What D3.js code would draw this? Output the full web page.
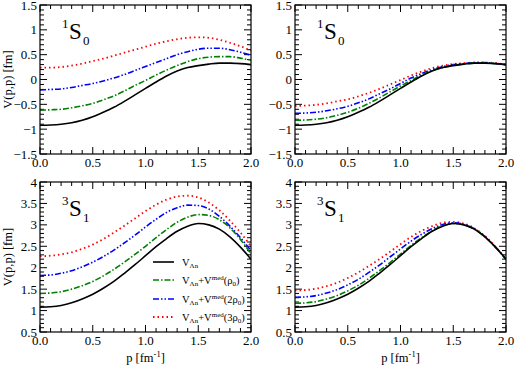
<!DOCTYPE html>
<html>
<head>
<meta charset="utf-8">
<script src="https://cdn.jsdelivr.net/npm/d3@7"></script>
<style>
  body { margin: 0; background: #fff; }
  svg { display: block; font-family: "Liberation Serif", "Times New Roman", serif; }
  .tick-label { font-size: 13px; fill: #000; }
</style>
</head>
<body>
<svg width="515" height="368"></svg>
<script>
const pGrid = [0.0, 0.1, 0.2, 0.3, 0.4, 0.5, 0.6, 0.7, 0.8, 0.9, 1.0, 1.1, 1.2, 1.3, 1.4, 1.5, 1.6, 1.7, 1.8, 1.9, 2.0];

// 1S0
const s0Free   = [-0.92, -0.915, -0.9, -0.87, -0.82, -0.75, -0.66, -0.56, -0.44, -0.31, -0.18, -0.05, 0.07, 0.17, 0.24, 0.28, 0.31, 0.33, 0.33, 0.32, 0.30];
const s0LeftA  = [-0.62, -0.61, -0.6, -0.57, -0.53, -0.48, -0.41, -0.33, -0.23, -0.12, -0.02, 0.09, 0.19, 0.28, 0.36, 0.42, 0.45, 0.46, 0.46, 0.43, 0.39];
const s0LeftB  = [-0.21, -0.2, -0.19, -0.16, -0.12, -0.08, -0.03, 0.03, 0.1, 0.18, 0.26, 0.34, 0.42, 0.5, 0.56, 0.61, 0.63, 0.63, 0.6, 0.55, 0.49];
const s0LeftC  = [0.24, 0.24, 0.25, 0.28, 0.32, 0.37, 0.42, 0.48, 0.54, 0.6, 0.66, 0.72, 0.77, 0.81, 0.84, 0.85, 0.84, 0.8, 0.74, 0.67, 0.58];
const s0RightA = [-0.82, -0.815, -0.8, -0.77, -0.72, -0.66, -0.58, -0.48, -0.37, -0.25, -0.13, -0.02, 0.09, 0.18, 0.24, 0.29, 0.31, 0.33, 0.33, 0.32, 0.30];
const s0RightB = [-0.68, -0.675, -0.66, -0.63, -0.59, -0.54, -0.47, -0.39, -0.29, -0.19, -0.08, 0.03, 0.12, 0.2, 0.26, 0.3, 0.32, 0.34, 0.34, 0.32, 0.30];
const s0RightC = [-0.53, -0.525, -0.51, -0.48, -0.44, -0.4, -0.34, -0.27, -0.19, -0.1, -0.01, 0.08, 0.16, 0.23, 0.28, 0.31, 0.33, 0.34, 0.34, 0.33, 0.30];

// 3S1
const s1Free   = [1.08, 1.09, 1.12, 1.18, 1.27, 1.38, 1.52, 1.68, 1.87, 2.07, 2.28, 2.49, 2.68, 2.85, 2.97, 3.03, 3.0, 2.9, 2.72, 2.48, 2.2];
const s1LeftA  = [1.4, 1.41, 1.44, 1.5, 1.58, 1.68, 1.81, 1.96, 2.13, 2.31, 2.5, 2.7, 2.89, 3.06, 3.18, 3.24, 3.22, 3.12, 2.93, 2.66, 2.32];
const s1LeftB  = [1.82, 1.83, 1.87, 1.93, 2.02, 2.13, 2.26, 2.41, 2.58, 2.76, 2.95, 3.13, 3.29, 3.4, 3.46, 3.45, 3.37, 3.2, 2.97, 2.7, 2.4];
const s1LeftC  = [2.27, 2.28, 2.31, 2.36, 2.44, 2.54, 2.67, 2.82, 2.98, 3.15, 3.32, 3.47, 3.59, 3.66, 3.68, 3.64, 3.52, 3.34, 3.1, 2.82, 2.5];
const s1RightA = [1.17, 1.18, 1.21, 1.27, 1.35, 1.46, 1.59, 1.75, 1.93, 2.12, 2.32, 2.52, 2.7, 2.86, 2.98, 3.03, 3.0, 2.9, 2.72, 2.48, 2.2];
const s1RightB = [1.31, 1.32, 1.35, 1.41, 1.49, 1.6, 1.73, 1.89, 2.06, 2.25, 2.44, 2.62, 2.78, 2.91, 3.01, 3.05, 3.01, 2.91, 2.73, 2.48, 2.2];
const s1RightC = [1.47, 1.48, 1.51, 1.57, 1.65, 1.76, 1.89, 2.04, 2.2, 2.37, 2.55, 2.72, 2.86, 2.97, 3.05, 3.07, 3.03, 2.92, 2.74, 2.49, 2.2];

const xTicks = [0.0, 0.5, 1.0, 1.5, 2.0];
const yTicksS0 = [-1.5, -1, -0.5, 0, 0.5, 1, 1.5];
const yTicksS1 = [0.5, 1, 1.5, 2, 2.5, 3, 3.5, 4];

const styles = [
  { color: "#000000", dash: null, width: 1.6 },
  { color: "#008000", dash: "6,2,1.5,2", width: 1.6 },
  { color: "#0000ff", dash: "6,2,1.5,2,1.5,2", width: 1.6 },
  { color: "#ff0000", dash: "1.5,3", width: 1.8 }
];

const panels = [
  { x0: 40, x1: 251, y0: 5, y1: 154, dom: [-1.5, 1.5], ticks: yTicksS0, wave: ["1", "S", "0"],
    series: [s0Free, s0LeftA, s0LeftB, s0LeftC], yLabel: true, xLabel: false, legend: false },
  { x0: 295, x1: 506, y0: 5, y1: 154, dom: [-1.5, 1.5], ticks: yTicksS0, wave: ["1", "S", "0"],
    series: [s0Free, s0RightA, s0RightB, s0RightC], yLabel: false, xLabel: false, legend: false },
  { x0: 40, x1: 251, y0: 182, y1: 332, dom: [0.5, 4], ticks: yTicksS1, wave: ["3", "S", "1"],
    series: [s1Free, s1LeftA, s1LeftB, s1LeftC], yLabel: true, xLabel: true, legend: true },
  { x0: 295, x1: 506, y0: 182, y1: 332, dom: [0.5, 4], ticks: yTicksS1, wave: ["3", "S", "1"],
    series: [s1Free, s1RightA, s1RightB, s1RightC], yLabel: false, xLabel: true, legend: false }
];

const svg = d3.select("svg");

function drawPanel(pn) {
  const x = d3.scaleLinear().domain([0, 2]).range([pn.x0, pn.x1]);
  const y = d3.scaleLinear().domain(pn.dom).range([pn.y1, pn.y0]);
  const g = svg.append("g");

  const xMinor = d3.range(0, 2.0001, 0.1).map(v => +v.toFixed(1));
  const yMinor = d3.range(pn.dom[0], pn.dom[1] + 0.0001, 0.1).map(v => +v.toFixed(1));

  // ticks, inward on all four sides
  const tk = g.append("g").attr("stroke", "#000").attr("stroke-width", 1);
  xMinor.forEach(v => {
    const len = xTicks.some(t => Math.abs(t - v) < 1e-6) ? 7 : 4;
    tk.append("line").attr("x1", x(v)).attr("x2", x(v)).attr("y1", pn.y1).attr("y2", pn.y1 - len);
    tk.append("line").attr("x1", x(v)).attr("x2", x(v)).attr("y1", pn.y0).attr("y2", pn.y0 + len);
  });
  yMinor.forEach(v => {
    const len = pn.ticks.some(t => Math.abs(t - v) < 1e-6) ? 7 : 4;
    tk.append("line").attr("y1", y(v)).attr("y2", y(v)).attr("x1", pn.x0).attr("x2", pn.x0 + len);
    tk.append("line").attr("y1", y(v)).attr("y2", y(v)).attr("x1", pn.x1).attr("x2", pn.x1 - len);
  });

  // curves
  const line = d3.line().x((d, i) => x(pGrid[i])).y(d => y(d)).curve(d3.curveMonotoneX);
  const clipId = "clip" + pn.x0 + "_" + pn.y0;
  g.append("clipPath").attr("id", clipId).append("rect")
    .attr("x", pn.x0).attr("y", pn.y0).attr("width", pn.x1 - pn.x0).attr("height", pn.y1 - pn.y0);
  pn.series.slice().reverse().forEach((s, k) => {
    const st = styles[pn.series.length - 1 - k];
    g.append("path").datum(s)
      .attr("clip-path", `url(#${clipId})`)
      .attr("d", line)
      .attr("fill", "none")
      .attr("stroke", st.color)
      .attr("stroke-width", st.width)
      .attr("stroke-dasharray", st.dash);
  });

  // frame
  g.append("rect").attr("x", pn.x0).attr("y", pn.y0)
    .attr("width", pn.x1 - pn.x0).attr("height", pn.y1 - pn.y0)
    .attr("fill", "none").attr("stroke", "#000").attr("stroke-width", 1.2);

  // tick labels
  xTicks.forEach(v => {
    g.append("text").attr("class", "tick-label")
      .attr("x", x(v)).attr("y", pn.y1 + 12.5)
      .attr("text-anchor", "middle").text(v.toFixed(1));
  });
  pn.ticks.forEach(v => {
    g.append("text").attr("class", "tick-label")
      .attr("x", pn.x0 - 3).attr("y", Math.max(y(v) + 4.5, 10))
      .attr("text-anchor", "end").text(d3.format("")(v));
  });

  // partial wave label
  const lx = pn.x0 + 29, ly = pn.y0 + 34;
  g.append("text").attr("x", lx - 7).attr("y", ly - 11).attr("font-size", 13).text(pn.wave[0]);
  g.append("text").attr("x", lx).attr("y", ly).attr("font-size", 23).text(pn.wave[1]);
  g.append("text").attr("x", lx + 14).attr("y", ly + 6).attr("font-size", 13).text(pn.wave[2]);

  if (pn.yLabel) {
    g.append("text")
      .attr("transform", `translate(12,${(pn.y0 + pn.y1) / 2}) rotate(-90)`)
      .attr("text-anchor", "middle").attr("font-size", 12.5)
      .text("V(p,p) [fm]");
  }
  if (pn.xLabel) {
    const t = g.append("text").attr("x", (pn.x0 + pn.x1) / 2).attr("y", 362)
      .attr("text-anchor", "middle").attr("font-size", 12.5);
    t.append("tspan").text("p [fm");
    t.append("tspan").attr("dy", -5).attr("font-size", 8.5).text("-1");
    t.append("tspan").attr("dy", 5).text("]");
  }
  if (pn.legend) drawLegend(g);
}

const legendRows = [
  { sup: null, arg: null },
  { sup: "med", arg: "" },
  { sup: "med", arg: "2" },
  { sup: "med", arg: "3" }
];

function drawLegend(g) {
  const lx0 = 153, lx1 = 174, tx = 182;
  const rowY = [262, 280, 299, 317];
  legendRows.forEach((r, i) => {
    const st = styles[i];
    g.append("line").attr("x1", lx0).attr("x2", lx1).attr("y1", rowY[i]).attr("y2", rowY[i])
      .attr("stroke", st.color).attr("stroke-width", st.width).attr("stroke-dasharray", st.dash);
    const t = g.append("text").attr("x", tx).attr("y", rowY[i] + 4).attr("font-size", 10.5);
    t.append("tspan").text("V");
    t.append("tspan").attr("dy", 2).attr("font-size", 7).text("Λn");
    if (r.sup) {
      t.append("tspan").attr("dy", -2).text("+V");
      t.append("tspan").attr("dy", -4).attr("font-size", 7).text(r.sup);
      t.append("tspan").attr("dy", 4).text("(" + r.arg + "ρ");
      t.append("tspan").attr("dy", 2).attr("font-size", 7).text("0");
      t.append("tspan").attr("dy", -2).text(")");
    }
  });
}

panels.forEach(drawPanel);
</script>
</body>
</html>
